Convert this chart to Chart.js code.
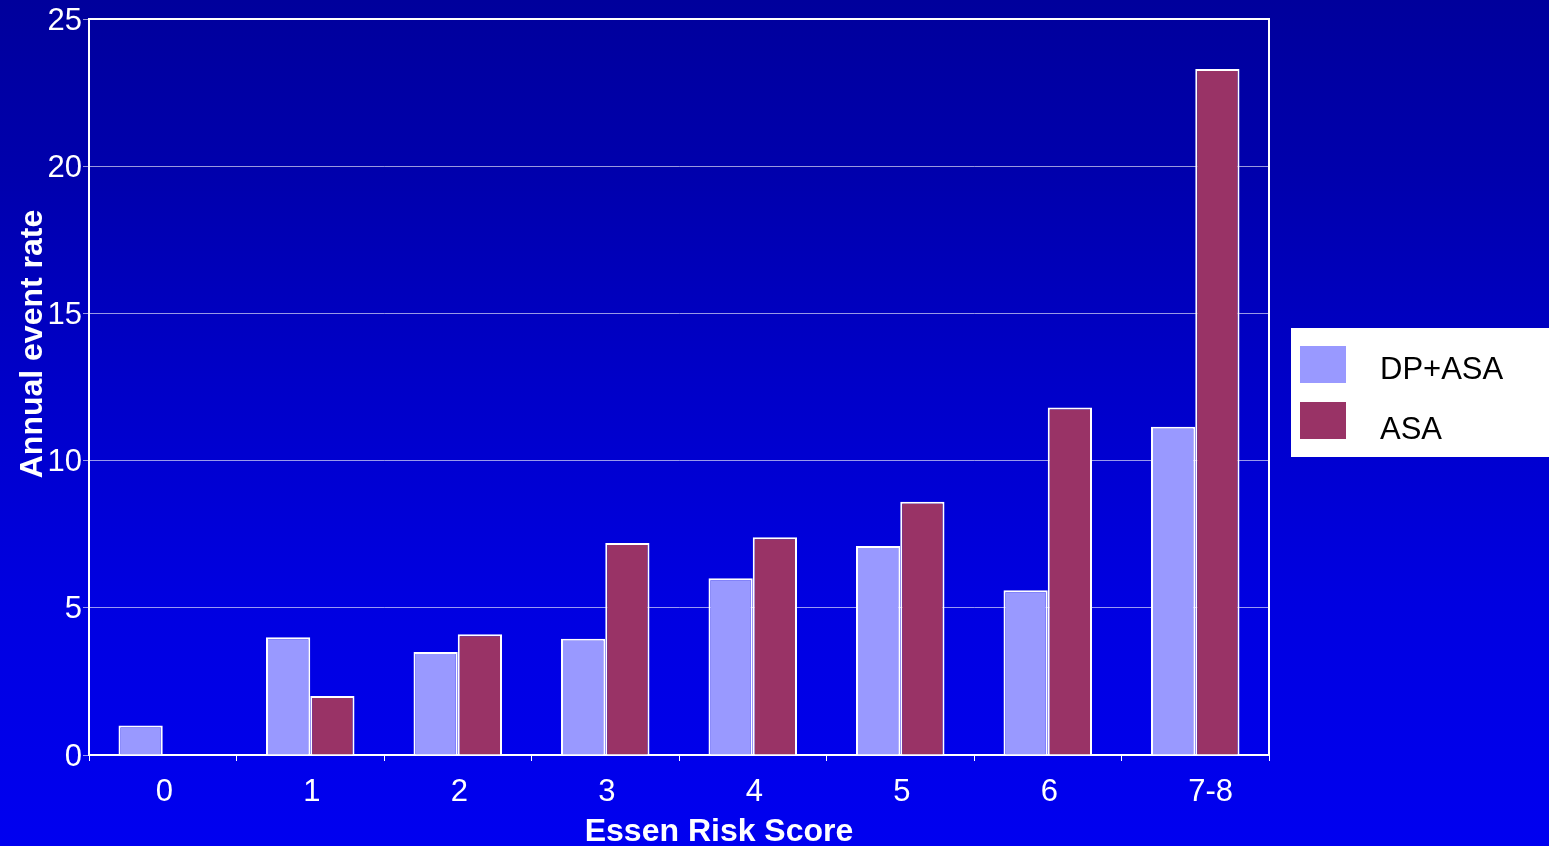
<!DOCTYPE html>
<html>
<head>
<meta charset="utf-8">
<script src="https://cdn.jsdelivr.net/npm/chart.js@4.4.1/dist/chart.umd.min.js"></script>
<style>
  html, body { margin: 0; padding: 0; overflow: hidden; background: #0000c0; }
  #wrap { width: 1549px; height: 846px; position: relative; }
  canvas { display: block; }
</style>
</head>
<body>
<div id="wrap"><canvas id="chart" width="1549" height="846"></canvas></div>
<script>
// Annual event rate by Essen Risk Score
const categories = ['0', '1', '2', '3', '4', '5', '6', '7-8'];
const seriesNames = ['DP+ASA', 'ASA'];
const dpAsaRates = [1.0, 4.0, 3.5, 3.95, 6.0, 7.1, 5.6, 11.15];
const asaRates = [0, 2.0, 4.1, 7.2, 7.4, 8.6, 11.8, 23.3];
const yTickValues = [0, 5, 10, 15, 20, 25];
const xAxisTitle = 'Essen Risk Score';
const yAxisTitle = 'Annual event rate';

const FONT = '"Liberation Sans", Arial, Helvetica, sans-serif';

// slide-style vertical blue gradient behind everything
const gradientBackground = {
  id: 'gradientBackground',
  beforeDraw(chart) {
    const { ctx, width, height } = chart;
    const g = ctx.createLinearGradient(0, 0, 0, height);
    g.addColorStop(0, '#00009c');
    g.addColorStop(0.2, '#0000ac');
    g.addColorStop(0.45, '#0000c8');
    g.addColorStop(0.7, '#0000e0');
    g.addColorStop(1, '#0000f0');
    ctx.save();
    ctx.fillStyle = g;
    ctx.fillRect(0, 0, width, height);
    ctx.restore();
  }
};

// closes the plot frame on the top and right sides
const plotFrame = {
  id: 'plotFrame',
  beforeDatasetsDraw(chart) {
    const { ctx, chartArea: a } = chart;
    ctx.save();
    ctx.strokeStyle = '#ffffff';
    ctx.lineWidth = 2;
    ctx.beginPath();
    ctx.moveTo(a.left - 1, a.top);
    ctx.lineTo(a.right, a.top);
    ctx.lineTo(a.right, a.bottom);
    ctx.stroke();
    ctx.restore();
  }
};

// axis titles, placed slightly off-centre like the original slide
const axisTitles = {
  id: 'axisTitles',
  afterDraw(chart) {
    const { ctx, chartArea: a } = chart;
    ctx.save();
    ctx.fillStyle = '#ffffff';
    ctx.font = 'bold 32px ' + FONT;
    ctx.textAlign = 'center';
    ctx.textBaseline = 'alphabetic';
    ctx.fillText(xAxisTitle, (a.left + a.right) / 2 + 40, 841);

    ctx.font = 'bold 32px ' + FONT;
    ctx.translate(41.5, (a.top + a.bottom) / 2 - 43);
    ctx.rotate(-Math.PI / 2);
    ctx.fillText(yAxisTitle, 0, 0);
    ctx.restore();
  }
};

// boxed legend on the right, built from the datasets
const sideLegend = {
  id: 'sideLegend',
  afterDraw(chart) {
    const { ctx, chartArea } = chart;
    const x0 = chartArea.right + 22;
    const y0 = 328;
    ctx.save();
    ctx.fillStyle = '#ffffff';
    ctx.fillRect(x0, y0, chart.width - x0, 129);
    ctx.font = '31px ' + FONT;
    ctx.textBaseline = 'alphabetic';
    ctx.textAlign = 'left';
    chart.data.datasets.forEach((ds, i) => {
      ctx.fillStyle = ds.backgroundColor;
      ctx.fillRect(x0 + 9, 346 + i * 56, 46, 37);
      ctx.fillStyle = '#000000';
      ctx.fillText(ds.label, x0 + 89, 378.5 + i * 60);
    });
    ctx.restore();
  }
};

new Chart(document.getElementById('chart'), {
  type: 'bar',
  data: {
    labels: categories,
    datasets: [
      {
        label: seriesNames[0],
        data: dpAsaRates,
        backgroundColor: '#9999ff',
        borderColor: '#ffffff',
        borderWidth: 2,
        categoryPercentage: 0.6,
        barPercentage: 1.0
      },
      {
        label: seriesNames[1],
        data: asaRates,
        backgroundColor: '#993366',
        borderColor: '#ffffff',
        borderWidth: 2,
        categoryPercentage: 0.6,
        barPercentage: 1.0
      }
    ]
  },
  options: {
    responsive: false,
    animation: false,
    devicePixelRatio: 1,
    layout: { padding: { top: 19, right: 280, bottom: 0, left: 0 } },
    plugins: {
      legend: { display: false },
      tooltip: { enabled: false }
    },
    scales: {
      x: {
        offset: true,
        grid: {
          display: true,
          drawOnChartArea: false,
          offset: true,
          color: '#ffffff',
          lineWidth: 1,
          tickLength: 6
        },
        border: { display: true, color: '#ffffff', width: 2 },
        ticks: {
          color: '#ffffff',
          font: { family: FONT, size: 31 },
          padding: 13,
          align: 'start',
          labelOffset: -7,
          maxRotation: 0
        },
        title: { display: false },
        afterFit(scale) { scale.height = 91; }
      },
      y: {
        min: 0,
        max: 25,
        afterBuildTicks(scale) {
          scale.ticks = yTickValues.map(v => ({ value: v }));
        },
        grid: {
          color: 'rgba(255,255,255,0.6)',
          lineWidth: 1,
          tickLength: 6
        },
        border: { display: true, color: '#ffffff', width: 2 },
        ticks: {
          color: '#ffffff',
          font: { family: FONT, size: 31, lineHeight: 1 },
          padding: 1,
          labelOffset: 2
        },
        title: { display: false },
        afterFit(scale) { scale.width = 89; }
      }
    }
  },
  plugins: [gradientBackground, plotFrame, axisTitles, sideLegend]
});
</script>
</body>
</html>
